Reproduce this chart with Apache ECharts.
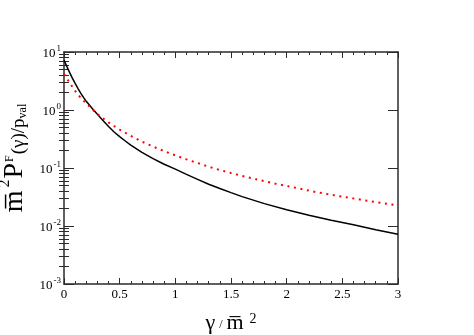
<!DOCTYPE html>
<html>
<head>
<meta charset="utf-8">
<script src="https://cdn.jsdelivr.net/npm/echarts@6/dist/echarts.min.js"></script>
<style>
html,body{margin:0;padding:0;background:#fff;}
#main{width:474px;height:335px;}
</style>
</head>
<body>
<div id="main"></div>
<script>
// 实线 (黑)
var xBlack = [0, 0.025, 0.05, 0.075, 0.1, 0.125, 0.15, 0.175, 0.2, 0.25, 0.3, 0.35, 0.4, 0.45, 0.5, 0.55, 0.6, 0.7, 0.8, 0.9, 1.0, 1.1, 1.2, 1.3, 1.4, 1.5, 1.6, 1.8, 2.0, 2.2, 2.4, 2.6, 2.8, 3.0];
var yBlack = [7.28, 5.65, 4.46, 3.55, 2.87, 2.36, 1.95, 1.65, 1.41, 1.08, 0.841, 0.661, 0.519, 0.417, 0.347, 0.292, 0.248, 0.186, 0.145, 0.116, 0.0955, 0.0776, 0.0638, 0.0525, 0.0442, 0.0376, 0.0321, 0.0243, 0.0191, 0.0153, 0.0126, 0.0105, 0.00861, 0.00719];
// 点线 (红)
var xRed = [0, 0.05, 0.1, 0.15, 0.2, 0.25, 0.3, 0.35, 0.4, 0.45, 0.5, 0.6, 0.7, 0.8, 0.9, 1.0, 1.1, 1.2, 1.3, 1.4, 1.5, 1.6, 1.7, 1.8, 1.9, 2.0, 2.25, 2.5, 2.75, 3.0];
var yRed = [4.17, 2.95, 2.14, 1.62, 1.30, 1.05, 0.855, 0.716, 0.612, 0.528, 0.459, 0.357, 0.285, 0.234, 0.195, 0.165, 0.141, 0.122, 0.105, 0.0925, 0.082, 0.0729, 0.0655, 0.0592, 0.0537, 0.049, 0.0389, 0.032, 0.0268, 0.0226];
// 坐标轴
var xMin = 0, xMax = 3, xStep = 0.5;
var yDecades = [0.001, 0.01, 0.1, 1, 10];
var minorMult = [2, 3, 4, 5, 6, 7, 8, 9];

var serif = '"Liberation Serif", "DejaVu Serif", serif';
var frame = '#2b2b2b';

function pairs(xs, ys){
    var out = [];
    xs.forEach(function(v, i){
        out.push([v, ys[i]]);
    });
    return out;
}

// log轴的次刻度 (按log10取值, 画在线性轴上)
function minorLogValues(){
    var arr = [];
    for(var i = 0; i < yDecades.length - 1; i++){
        minorMult.forEach(function(m){
            arr.push(Math.log10(yDecades[i] * m));
        });
    }
    return arr;
}

function yTickLabel(v){
    var e = Math.round(Math.log10(v));
    return '{b|10}{s|' + e + '}';
}

var lineSt = {color: frame, width: 1.5};

function xAxisCfg(pos, withLabel){
    return {
        type: 'value',
        position: pos,
        min: xMin,
        max: xMax,
        interval: xStep,
        axisLine: {onZero: false, lineStyle: lineSt},
        axisTick: {inside: true, length: 6, lineStyle: {color: frame, width: 1}},
        minorTick: {show: true, splitNumber: 5, length: 3, lineStyle: {color: frame, width: 1}},
        splitLine: {show: false},
        axisLabel: {show: withLabel, color: '#000', fontFamily: serif, fontSize: 13, margin: 4}
    };
}

function yMajorCfg(pos, withLabel){
    return {
        type: 'log',
        logBase: 10,
        position: pos,
        min: yDecades[0],
        max: yDecades[yDecades.length - 1],
        axisLine: {onZero: false, lineStyle: lineSt},
        axisTick: {inside: true, length: 10, lineStyle: {color: frame, width: 1}},
        splitLine: {show: false},
        axisLabel: {
            show: withLabel,
            margin: 3,
            formatter: yTickLabel,
            rich: {
                b: {fontFamily: serif, fontSize: 13, color: '#000', verticalAlign: 'bottom', lineHeight: 16},
                s: {fontFamily: serif, fontSize: 9, color: '#000', verticalAlign: 'top', padding: [0, 0, 0, 1]}
            }
        }
    };
}

function yMinorCfg(pos){
    return {
        type: 'value',
        position: pos,
        min: Math.log10(yDecades[0]),
        max: Math.log10(yDecades[yDecades.length - 1]),
        axisLine: {show: false},
        axisTick: {inside: true, length: 5, customValues: minorLogValues(), lineStyle: {color: frame, width: 1}},
        splitLine: {show: false},
        axisLabel: {show: false}
    };
}

var myChart = echarts.init(document.getElementById('main'));

var xBottom = xAxisCfg('bottom', true);
xBottom.name = '{g|γ}{sl| / }{m|m\u0305}{s|2}';
xBottom.nameLocation = 'middle';
xBottom.nameGap = 28;
xBottom.nameTextStyle = {
    rich: {
        g: {fontFamily: serif, fontSize: 22, color: '#000', verticalAlign: 'bottom'},
        sl: {fontFamily: serif, fontSize: 12, color: '#000', verticalAlign: 'bottom', padding: [0, 1, 3, 1]},
        m: {fontFamily: serif, fontSize: 22, color: '#000', verticalAlign: 'bottom'},
        s: {fontFamily: serif, fontSize: 14, color: '#000', verticalAlign: 'top', padding: [0, 0, 0, 6]}
    }
};

var yLeft = yMajorCfg('left', true);
yLeft.name = '{m|m\u0305}{s2|2}{P|P}{sf|F}{t|(γ)/p}{sub|val}';
yLeft.nameLocation = 'middle';
yLeft.nameRotate = 90;
yLeft.nameGap = 26;
yLeft.nameTextStyle = {
    padding: [0, 0, 0, 20],
    rich: {
        m: {fontFamily: serif, fontSize: 28, color: '#000', verticalAlign: 'bottom', lineHeight: 32},
        s2: {fontFamily: serif, fontSize: 16, color: '#000', verticalAlign: 'top', padding: [0, 1, 0, 3]},
        P: {fontFamily: serif, fontSize: 28, color: '#000', verticalAlign: 'bottom'},
        sf: {fontFamily: serif, fontSize: 12, color: '#000', verticalAlign: 'top', padding: [7, 1, 0, 1]},
        t: {fontFamily: serif, fontSize: 19, color: '#000', verticalAlign: 'bottom'},
        sub: {fontFamily: serif, fontSize: 12, color: '#000', verticalAlign: 'bottom'}
    }
};

var option = {
    animation: false,
    backgroundColor: '#fff',
    grid: {left: 64, right: 76, top: 52, bottom: 51, outerBoundsMode: 'none', containLabel: false},
    xAxis: [xBottom, xAxisCfg('top', false)],
    yAxis: [yLeft, yMinorCfg('left'), yMajorCfg('right', false), yMinorCfg('right')],
    series: [
        {
            name: 'black',
            type: 'line',
            xAxisIndex: 0,
            yAxisIndex: 0,
            data: pairs(xBlack, yBlack),
            showSymbol: false,
            lineStyle: {color: '#000', width: 1.5}
        },
        {
            name: 'red',
            type: 'line',
            xAxisIndex: 0,
            yAxisIndex: 0,
            data: pairs(xRed, yRed),
            showSymbol: false,
            lineStyle: {color: '#ff0000', width: 2, type: [2, 4.6]}
        }
    ]
};

myChart.setOption(option);
</script>
</body>
</html>
